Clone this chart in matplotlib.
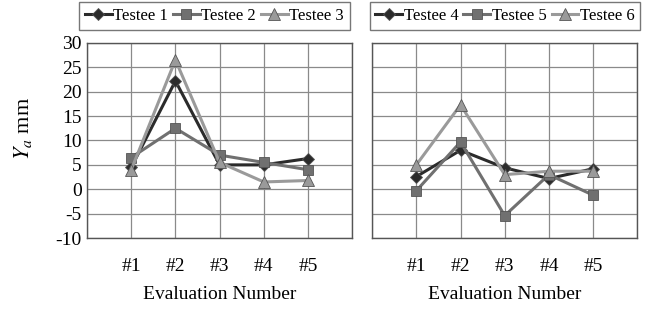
import matplotlib.pyplot as plt

plt.rcParams['font.family'] = ['Liberation Serif', 'DejaVu Serif']
plt.rcParams['mathtext.fontset'] = 'stix'
plt.rcParams['axes.unicode_minus'] = False

evals = ["#1", "#2", "#3", "#4", "#5"]
x = [1, 2, 3, 4, 5]

testee1 = [4.5, 22.2, 5.0, 5.0, 6.3]
testee2 = [6.5, 12.5, 7.0, 5.5, 4.0]
testee3 = [4.0, 26.5, 5.5, 1.5, 1.8]

testee4 = [2.6, 8.0, 4.4, 2.2, 4.2]
testee5 = [-0.3, 9.7, -5.4, 3.0, -1.2]
testee6 = [5.0, 17.3, 3.0, 3.7, 3.7]

colors = ["#2b2b2b", "#707070", "#9a9a9a"]
markers = ["D", "s", "^"]
msizes = [6, 7, 8]

fig = plt.figure(figsize=(6.45, 3.2), dpi=100)
ax1 = fig.add_axes([0.135, 0.256, 0.411, 0.61])
ax2 = fig.add_axes([0.577, 0.256, 0.411, 0.61])

groups = [
    (ax1, [testee1, testee2, testee3], ["Testee 1", "Testee 2", "Testee 3"], (0.12, 0.91, 0.425, 0.08)),
    (ax2, [testee4, testee5, testee6], ["Testee 4", "Testee 5", "Testee 6"], (0.566, 0.91, 0.434, 0.08)),
]

for ax, series, names, box in groups:
    handles = []
    for vals, name, c, m, ms in zip(series, names, colors, markers, msizes):
        h, = ax.plot(x, vals, color=c, marker=m, markersize=ms, linewidth=2.2,
                     markeredgecolor="#555555", markeredgewidth=0.6, label=name)
        handles.append(h)
    ax.set_xlim(0, 6)
    ax.set_ylim(-10, 30)
    ax.set_xticks([0, 1, 2, 3, 4, 5, 6])
    ax.set_xticklabels([""] + evals + [""], fontsize=14)
    ax.set_yticks(range(-10, 31, 5))
    ax.grid(True, color="#8a8a8a", linewidth=0.9)
    ax.set_axisbelow(True)
    ax.tick_params(axis="x", length=0, pad=14)
    ax.tick_params(axis="y", length=0, pad=4, labelsize=14)
    for s in ax.spines.values():
        s.set_color("#555555")
        s.set_linewidth(1.0)
    ax.set_xlabel("Evaluation Number", fontsize=14, labelpad=8)
    leg = fig.legend(handles=handles, loc="center", bbox_to_anchor=box, ncol=3,
                     fontsize=12, frameon=True, fancybox=False, handlelength=1.6,
                     handletextpad=0.1, columnspacing=0.3, borderpad=0.35,
                     edgecolor="#555555")
    leg.get_frame().set_linewidth(1.0)

ax2.set_yticklabels([])
ax1.set_ylabel("$Y_a$ mm", fontsize=16, labelpad=2)
ax1.yaxis.set_label_coords(-0.2, 0.56)

fig.savefig("out.png", dpi=100)
